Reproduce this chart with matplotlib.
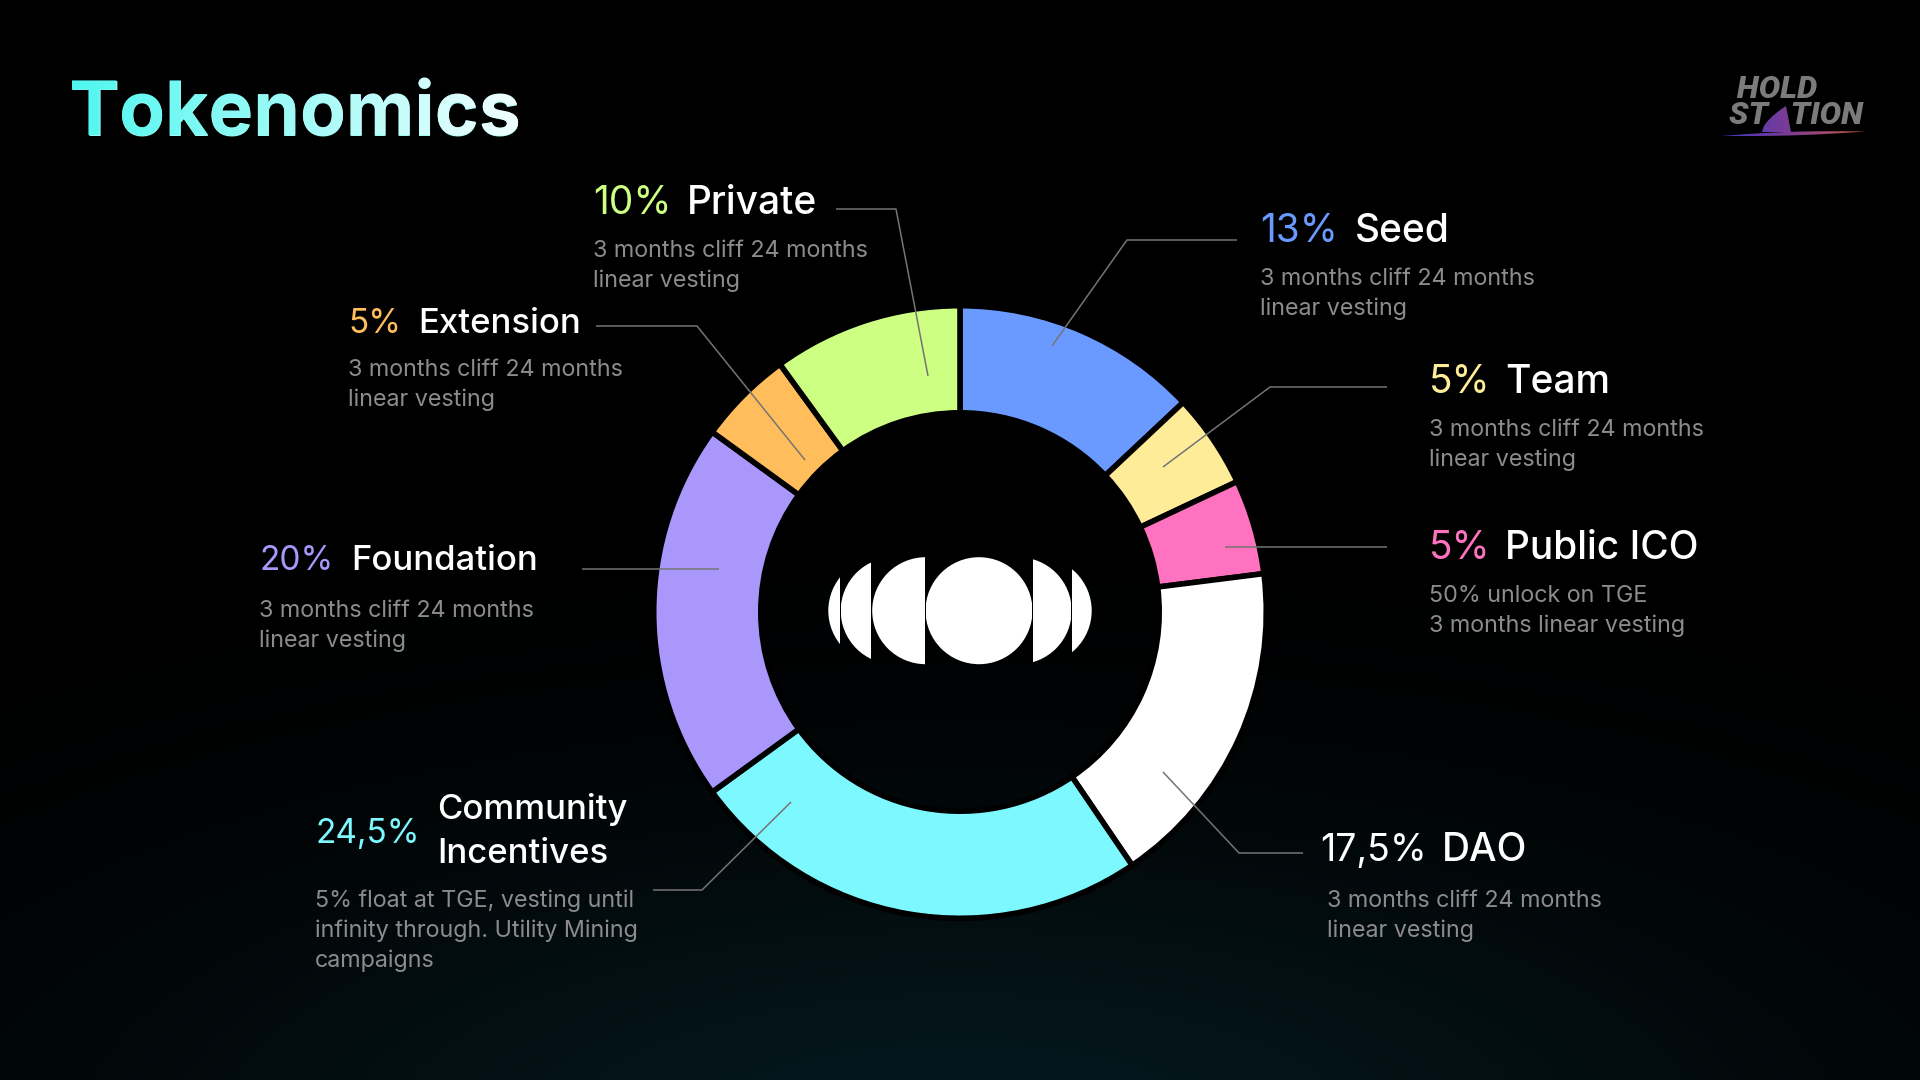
import numpy as np
import matplotlib
matplotlib.use("Agg")
import matplotlib.pyplot as plt
from matplotlib.patches import Circle, Rectangle, PathPatch, Polygon
from matplotlib.textpath import TextPath
from matplotlib.font_manager import FontProperties
from matplotlib.transforms import Affine2D

# ---------------- data ----------------
categories = ["Seed", "Team", "Public ICO", "DAO", "Community\nIncentives",
              "Foundation", "Extension", "Private"]
shares = [13, 5, 5, 17.5, 24.5, 20, 5, 10]
pct_labels = ["13%", "5%", "5%", "17,5%", "24,5%", "20%", "5%", "10%"]
descriptions = [
    "3 months cliff 24 months\nlinear vesting",
    "3 months cliff 24 months\nlinear vesting",
    "50% unlock on TGE\n3 months linear vesting",
    "3 months cliff 24 months\nlinear vesting",
    "5% float at TGE, vesting until\ninfinity through. Utility Mining\ncampaigns",
    "3 months cliff 24 months\nlinear vesting",
    "3 months cliff 24 months\nlinear vesting",
    "3 months cliff 24 months\nlinear vesting",
]
title = "Tokenomics"
brand_lines = " HOLD\nST\u2002\u2009TION"

# ---------------- style ----------------
wedge_colors = ["#6A9AFF", "#FFEC99", "#FF72BF", "#FFFFFF", "#7DF8FE",
                "#AA97FC", "#FFBD5B", "#CCFF82"]
pct_colors = ["#6A9AFF", "#FFEC99", "#FF72BF", "#FFFFFF", "#7DF8FE",
              "#AA97FC", "#FFBD5B", "#CCFF82"]
pct_fs = [28, 28, 28, 27, 24, 24, 24, 28]
name_fs = [28, 28, 28, 28, 25, 25, 25, 28]
# layout in pixel coords (y downward)
pct_x = [1260, 1429, 1429, 1320, 316, 259, 348, 593]
name_x = [1355, 1505, 1505, 1442, 437, 351, 418, 687]
name_y = [242, 393, 559, 861, 819, 570, 333, 214]
pct_y = [242, 393, 559, 861, 843, 570, 333, 214]
desc_x = [1260, 1429, 1429, 1327, 315, 259, 348, 593]
desc_y = [285, 436, 602, 907, 907, 617, 376, 257]
leaders = [
    [(1237, 240), (1127, 240), (1052, 346)],
    [(1387, 387), (1270, 387), (1163, 467)],
    [(1387, 547), (1225, 547)],
    [(1303, 853), (1239, 853), (1163, 772)],
    [(653, 890), (702, 890), (791, 802)],
    [(582, 569), (719, 569)],
    [(596, 326), (697, 326), (805, 460)],
    [(836, 209), (896, 209), (928, 376)],
]
CX, CY = 960, 612
R_OUT, R_IN = 303.5, 202
EDGE_PT = 4.0
edge_px = EDGE_PT * 100 / 72

W, H = 1920, 1080
fig = plt.figure(figsize=(19.2, 10.8), dpi=100, facecolor="black")
ax = fig.add_axes([0, 0, 1, 1])
ax.set_facecolor("black")

# ---------------- background glow ----------------
gx = np.linspace(0, W, 384)
gy = np.linspace(0, H, 216)
GX, GY = np.meshgrid(gx, gy)
inten = np.exp(-(((GX - 960) / 850) ** 2 + ((GY - 1150) / 320) ** 2))
glow = np.array([5, 24, 30]) / 255.0
bg = inten[..., None] * glow[None, None, :]
ax.imshow(bg, extent=(0, W, H, 0), origin="upper", zorder=-10,
          interpolation="bilinear")

# ---------------- donut ----------------
ax.pie(shares, colors=wedge_colors, startangle=-90, counterclock=True,
       radius=R_OUT + edge_px / 2, center=(CX, CY),
       wedgeprops=dict(width=(R_OUT - R_IN) + edge_px, edgecolor="black",
                       linewidth=EDGE_PT), frame=False)

# ---------------- center logo ----------------
lr = 53.5
ly = 610.7
pieces = [(881.8, 828.3, 840.2), (894.2, 841.2, 871.2), (925.7, 872.2, 925.0),
          (979.0, 926.2, 1032.0), (1018.2, 1033.2, 1071.0), (1038.2, 1072.2, 1093)]
for cx_, x0, x1 in pieces:
    c = Circle((cx_, ly), lr, facecolor="white", edgecolor="none", zorder=5)
    ax.add_patch(c)
    clip = Rectangle((x0, ly - 60), x1 - x0, 120, transform=ax.transData)
    c.set_clip_path(clip)

# ---------------- leaders ----------------
for pts in leaders:
    xs = [p[0] for p in pts]
    ys = [p[1] for p in pts]
    ax.plot(xs, ys, color="#747474", lw=1.1, zorder=6, solid_capstyle="butt")

# ---------------- labels ----------------
FS_DESC = 16.8
for i, cat in enumerate(categories):
    ax.text(pct_x[i], pct_y[i], pct_labels[i], color=pct_colors[i],
            fontsize=pct_fs[i], fontfamily="Inter", va="baseline", ha="left")
    for j, line in enumerate(cat.split("\n")):
        ax.text(name_x[i], name_y[i] + j * 44, line, color="white",
                fontsize=name_fs[i], fontfamily="Inter", fontweight="medium",
                va="baseline", ha="left")
    for j, line in enumerate(descriptions[i].split("\n")):
        ax.text(desc_x[i], desc_y[i] + j * 30, line, color="#8c8c8c",
                fontsize=FS_DESC, fontfamily="Inter", fontweight="normal",
                va="baseline", ha="left")

# ---------------- gradient title (real text + gradient overlay) ----------------
TITLE_PX = 75.0
TX, TY = 69, 135
fp_title = FontProperties(family="Inter", weight="bold")
ax.text(TX, TY, title, fontproperties=fp_title, fontsize=TITLE_PX * 0.72,
        color="#9ffbf6", va="baseline", ha="left", zorder=6)
tp = TextPath((0, 0), title, size=TITLE_PX, prop=fp_title)
tpath = Affine2D().scale(1, -1).translate(TX, TY).transform_path(tp)
tpatch = PathPatch(tpath, facecolor="none", edgecolor="none",
                   transform=ax.transData)
ax.add_patch(tpatch)
grad = np.linspace(0, 1, 256)
c0 = np.array([0x4F, 0xF7, 0xF0]) / 255
c1 = np.array([0xF2, 0xFF, 0xFF]) / 255
gimg = (c0[None, :] * (1 - grad[:, None]) + c1[None, :] * grad[:, None])[None, :, :]
tb = tpath.get_extents()
im = ax.imshow(gimg, extent=(tb.x0, tb.x1, tb.y1 + 2, tb.y0 - 2), zorder=7,
               interpolation="bilinear", aspect="auto")
im.set_clip_path(tpatch)

# ---------------- HOLD STATION logo ----------------
logo_gray = "#7b7b7b"
ax.text(1729, 124.3, brand_lines, color=logo_gray, fontsize=23,
        fontfamily=["Roboto", "DejaVu Sans"], fontweight="black",
        fontstyle="italic", va="baseline", ha="left", linespacing=0.85,
        multialignment="left")

t = np.linspace(0, 1, 20)
fin_left = np.column_stack([1762 + 24 * t, 132 - 26 * t ** 0.6])
fin_right = np.column_stack([1786 + 5 * t, 106 + 26 * t])
fin = np.vstack([fin_left, fin_right])
fin_patch = Polygon(fin, closed=True, facecolor="none", edgecolor="none",
                    transform=ax.transData)
ax.add_patch(fin_patch)
s = np.linspace(0, 1, 40)
sx = 1721 + 145 * s
top = 136 - 4.5 * s - 2.0 * np.sin(np.pi * s)
bot = 136 - 4.5 * s + 1.6 * np.sin(np.pi * s)
sw = np.vstack([np.column_stack([sx, top]), np.column_stack([sx[::-1], bot[::-1]])])
sw_patch = Polygon(sw, closed=True, facecolor="none", edgecolor="none",
                   transform=ax.transData)
ax.add_patch(sw_patch)
lg = np.linspace(0, 1, 128)
cA = np.array([0x40, 0x38, 0xC8]) / 255
cB = np.array([0x80, 0x3C, 0x90]) / 255
cC = np.array([0xC8, 0x5C, 0x40]) / 255
cols = np.where(lg[:, None] < 0.5,
                cA[None, :] * (1 - 2 * lg[:, None]) + cB[None, :] * 2 * lg[:, None],
                cB[None, :] * (2 - 2 * lg[:, None]) + cC[None, :] * (2 * lg[:, None] - 1))
lgimg = cols[None, :, :]
im2 = ax.imshow(lgimg, extent=(1721, 1866, 140, 104), zorder=7,
                interpolation="bilinear", aspect="auto")
im2.set_clip_path(sw_patch)
im3 = ax.imshow(lgimg, extent=(1721, 1866, 140, 104), zorder=7,
                interpolation="bilinear", aspect="auto")
im3.set_clip_path(fin_patch)

ax.set_xlim(0, W)
ax.set_ylim(H, 0)
ax.set_aspect("auto")
ax.axis("off")
fig.savefig("out.png", dpi=100, facecolor="black")
